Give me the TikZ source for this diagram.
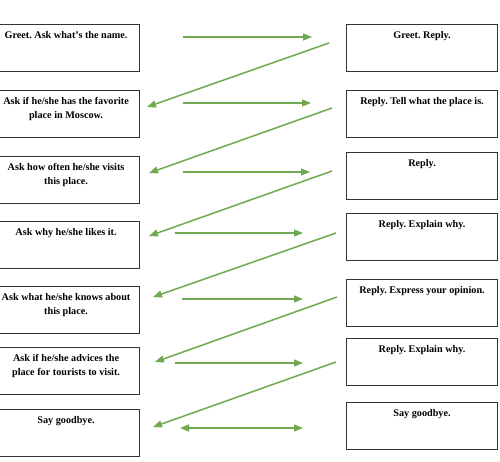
\documentclass[tikz,border=0pt]{standalone}
\usepackage{fontspec}
\setmainfont{Liberation Serif}
\usetikzlibrary{arrows.meta}
\frenchspacing
\definecolor{arrgreen}{RGB}{112,170,80}
\tikzstyle{card}=[draw=black!80,line width=1.1pt,minimum height=47pt,inner sep=0pt]
\tikzstyle{lcard}=[card,minimum width=147pt,anchor=north west]
\tikzstyle{rcard}=[card,minimum width=151pt,anchor=north west]
\tikzstyle{txt}=[anchor=north,align=center,inner sep=0pt,yshift=-7pt,font=\fontsize{10.2}{14}\selectfont\bfseries]
\tikzstyle{arr}=[arrgreen,line width=1.5pt,-{Triangle[length=9pt,width=7pt]}]

\begin{document}
\begin{tikzpicture}[x=1pt,y=-1pt]
\useasboundingbox (0,0) rectangle (500,461);
% left column
\node[lcard,label={[txt]north:Greet. Ask what’s the name.}] at (-8, 24) (l1) {};
\node[lcard,label={[txt]north:Ask if he/she has the favorite\\place in Moscow.}] at (-8, 90) (l2) {};
\node[lcard,label={[txt]north:Ask how often he/she visits\\this place.}] at (-8, 156) (l3) {};
\node[lcard,label={[txt]north:Ask why he/she likes it.}] at (-8, 221) (l4) {};
\node[lcard,label={[txt]north:Ask what he/she knows about\\this place.}] at (-8, 286) (l5) {};
\node[lcard,label={[txt]north:Ask if he/she advices the\\place for tourists to visit.}] at (-8, 347) (l6) {};
\node[lcard,label={[txt]north:Say goodbye.}] at (-8, 409) (l7) {};
% right column
\node[rcard,label={[txt]north:Greet. Reply.}] at (346, 24) (r1) {};
\node[rcard,label={[txt]north:Reply. Tell what the place is.}] at (346, 90) (r2) {};
\node[rcard,label={[txt]north:Reply.}] at (346, 152) (r3) {};
\node[rcard,label={[txt]north:Reply. Explain why.}] at (346, 213) (r4) {};
\node[rcard,label={[txt]north:Reply. Express your opinion.}] at (346, 279) (r5) {};
\node[rcard,label={[txt]north:Reply. Explain why.}] at (346, 338) (r6) {};
\node[rcard,label={[txt]north:Say goodbye.}] at (346, 402) (r7) {};
% arrow ends
\coordinate (h1a) at (183, 37);  \coordinate (h1b) at (312, 37);
\coordinate (h2a) at (183, 103); \coordinate (h2b) at (311, 103);
\coordinate (h3a) at (183, 172); \coordinate (h3b) at (310, 172);
\coordinate (h4a) at (175, 233); \coordinate (h4b) at (303, 233);
\coordinate (h5a) at (182, 299); \coordinate (h5b) at (303, 299);
\coordinate (h6a) at (175, 363); \coordinate (h6b) at (303, 363);
\coordinate (h7a) at (180, 428); \coordinate (h7b) at (303, 428);
\coordinate (d1a) at (329, 43);  \coordinate (d1b) at (147, 107);
\coordinate (d2a) at (332, 108); \coordinate (d2b) at (149, 173);
\coordinate (d3a) at (332, 171); \coordinate (d3b) at (149, 236);
\coordinate (d4a) at (336, 233); \coordinate (d4b) at (153, 297);
\coordinate (d5a) at (337, 297); \coordinate (d5b) at (155, 362);
\coordinate (d6a) at (336, 362); \coordinate (d6b) at (153, 427);
% arrows
\draw[arr] (h1a) -- (h1b);
\draw[arr] (h2a) -- (h2b);
\draw[arr] (h3a) -- (h3b);
\draw[arr] (h4a) -- (h4b);
\draw[arr] (h5a) -- (h5b);
\draw[arr] (h6a) -- (h6b);
\draw[arr,{Triangle[length=9pt,width=7pt]}-{Triangle[length=9pt,width=7pt]}] (h7a) -- (h7b);
\draw[arr] (d1a) -- (d1b);
\draw[arr] (d2a) -- (d2b);
\draw[arr] (d3a) -- (d3b);
\draw[arr] (d4a) -- (d4b);
\draw[arr] (d5a) -- (d5b);
\draw[arr] (d6a) -- (d6b);
\end{tikzpicture}
\end{document}
